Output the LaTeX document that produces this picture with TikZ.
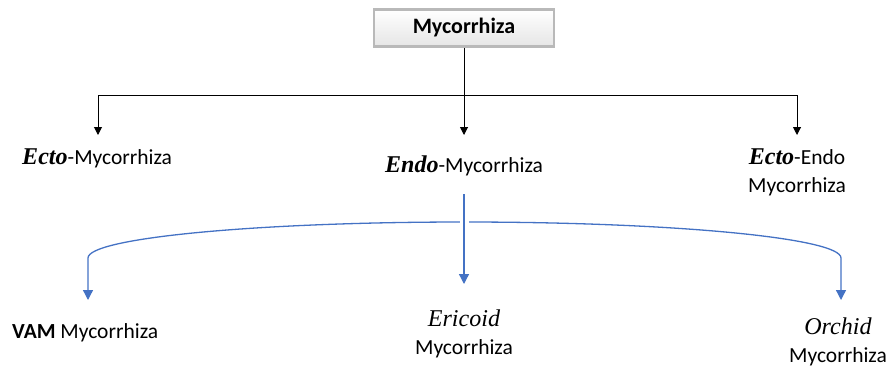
\documentclass[tikz,border=0pt]{standalone}
\usepackage{fontspec}
\setmainfont{Carlito}
\newfontfamily\serifit[Scale=1.12]{Liberation Serif}
\usetikzlibrary{arrows.meta}
\begin{document}
\begin{tikzpicture}[x=1pt,y=-1pt,
  lbl/.style={font=\fontsize{21.5}{28}\selectfont, inner sep=0pt, align=center},
  blk/.style={draw=black, line width=1pt, -{Triangle[width=8pt,length=8pt]}},
  blu/.style={draw={rgb,255:red,68;green,114;blue,196}, line width=1.3pt},
  bluarrow/.style={blu, -{Triangle[width=10pt,length=10pt]}},
  ]
\useasboundingbox (0,0) rectangle (893,367);
% title box
\node[draw=gray!55, line width=2.5pt, top color=white, bottom color=gray!20,
      minimum width=180pt, minimum height=37pt, inner sep=0pt,
      font=\fontsize{22}{26}\selectfont\bfseries] (root) at (464,28) {Mycorrhiza};
% level 1 labels
\node[lbl, anchor=west] (ecto) at (22,158) {{\serifit\bfseries\itshape Ecto}-Mycorrhiza};
\node[lbl] (endo) at (464,166) {{\serifit\bfseries\itshape Endo}-Mycorrhiza};
\node[lbl] (ectoendo) at (797,172) {{\serifit\bfseries\itshape Ecto}-Endo\\Mycorrhiza};
\coordinate (ectotip) at (98,135);
\coordinate (endotip) at (464,135);
\coordinate (eetip) at (797,135);
% black connectors
\draw[black, line width=1pt] (98,95) coordinate (hl) -- (797,95) coordinate (hr);
\draw[blk] (root.south) -- (endotip);
\draw[blk] (hl) -- (ectotip);
\draw[blk] (hr) -- (eetip);
% level 2 labels
\node[lbl, anchor=west] (vam) at (12,333) {\textbf{VAM} Mycorrhiza};
\node[lbl] (eric) at (464,334) {{\serifit\itshape Ericoid}\\Mycorrhiza};
\node[lbl] (orch) at (838,342) {{\serifit\itshape Orchid}\\Mycorrhiza};
\coordinate (vamtip) at (88,300);
\coordinate (erictip) at (464,284);
\coordinate (orchtip) at (841,300);
\coordinate (endobot) at (464,194);
\coordinate (bmid) at (464,222);
% blue curved connectors
\draw[bluarrow] (bmid) .. controls (256,222) and (88,238) .. (88,258) -- (vamtip);
\draw[bluarrow] (bmid) .. controls (672,222) and (841,238) .. (841,258) -- (orchtip);
\draw[white, line width=9pt] (464,210) -- (464,234);
\draw[bluarrow] (endobot) -- (erictip);
\end{tikzpicture}
\end{document}
